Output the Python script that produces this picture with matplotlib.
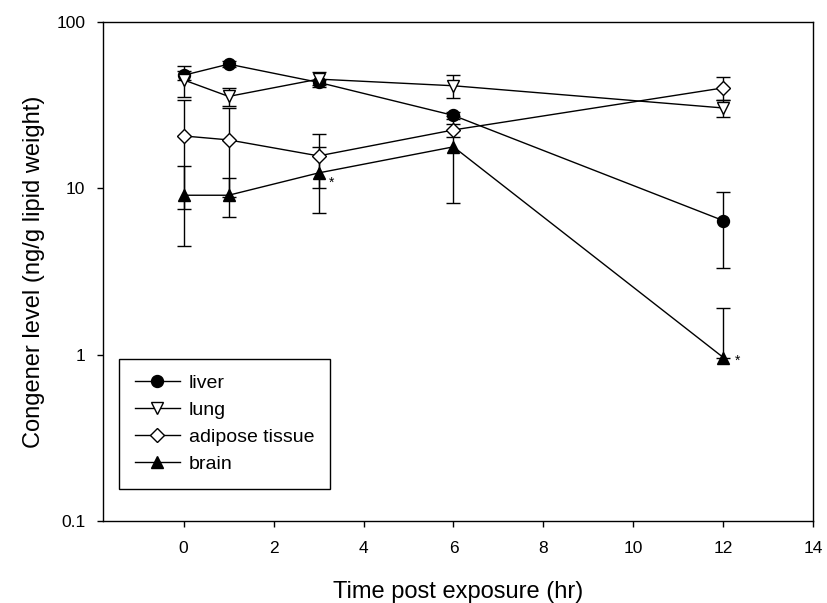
import matplotlib
matplotlib.use('Agg')
import matplotlib.pyplot as plt
import numpy as np

plt.rcParams['font.family'] = ['Liberation Sans', 'DejaVu Sans']

# sampling times (hr)
time = [0, 1, 3, 6, 12]

# mean and SD per tissue (ng/g lipid weight)
liver_mean = [48, 56, 43.5, 27.5, 6.4]
liver_sd = [3.0, 2.5, 1.5, 1.5, 3.1]
lung_mean = [45, 35.8, 45.5, 41.5, 30.5]
lung_sd = [9.5, 4.5, 4.6, 6.6, 3.5]
adipose_mean = [20.7, 19.6, 15.7, 22.5, 40.3]
adipose_sd = [13.2, 10.7, 5.6, 2.0, 6.4]
brain_mean = [9.1, 9.1, 12.4, 17.8, 0.96]
brain_sd = [4.6, 2.4, 5.3, 9.6, 0.96]

# brain points flagged as significant
star_times = [3, 12]

fig = plt.figure(figsize=(8.27, 6.03), dpi=100, facecolor='white')
ax = fig.add_axes([0.1242, 0.1365, 0.9834 - 0.1242, 0.963 - 0.1365])

series = [
    ('liver', liver_mean, liver_sd, 'o', 'black', 8.6),
    ('lung', lung_mean, lung_sd, 'v', 'white', 8.8),
    ('adipose tissue', adipose_mean, adipose_sd, 'D', 'white', 7.4),
    ('brain', brain_mean, brain_sd, '^', 'black', 8.8),
]

for name, m, sd, mk, fc, ms in series:
    m = np.array(m)
    sd = np.array(sd)
    # lower bar is dropped when mean - sd is not positive (log axis)
    low = np.where(m - sd > 0, sd, 0)
    ax.errorbar(time, m, yerr=[low, sd], fmt='none', ecolor='black',
                elinewidth=1.0, capsize=5, capthick=1.0, zorder=2)
    ax.plot(time, m, color='black', lw=1.0, marker=mk, ms=ms,
            markerfacecolor=fc, markeredgecolor='black', markeredgewidth=1.0,
            label=name, zorder=3)

star_offsets = [(7.5, -7), (8.5, -2)]
for t, off in zip(star_times, star_offsets):
    i = time.index(t)
    ax.annotate('*', xy=(t, brain_mean[i]), xytext=off,
                textcoords='offset points', fontsize=10, ha='left', va='center')

ax.set_yscale('log')
ax.set_ylim(0.1, 100)
ax.set_xlim(-1.8, 14)
ax.set_yticks([0.1, 1, 10, 100])
ax.set_yticklabels(['0.1', '1', '10', '100'])
ax.yaxis.set_minor_locator(matplotlib.ticker.NullLocator())
ax.set_xticks(range(0, 15, 2))

ax.tick_params(direction='out', length=4.5, width=1.0, labelsize=12.5,
               top=False, right=False)
ax.tick_params(axis='x', pad=10)
ax.tick_params(axis='y', pad=8)
for s in ax.spines.values():
    s.set_linewidth(1.0)

ax.set_xlabel('Time post exposure (hr)', fontsize=17, labelpad=18)
ax.set_ylabel('Congener level (ng/g lipid weight)', fontsize=17, labelpad=8)

leg = ax.legend(loc='upper left', bbox_to_anchor=(119 / 827, 1 - 359 / 603),
                bbox_transform=fig.transFigure, fontsize=14, frameon=True,
                fancybox=False, edgecolor='black', framealpha=1,
                handlelength=2.35, labelspacing=0.48, borderpad=0.8,
                handletextpad=0.45, borderaxespad=0)
leg.get_frame().set_linewidth(1.0)

fig.savefig('out.png', dpi=100)
